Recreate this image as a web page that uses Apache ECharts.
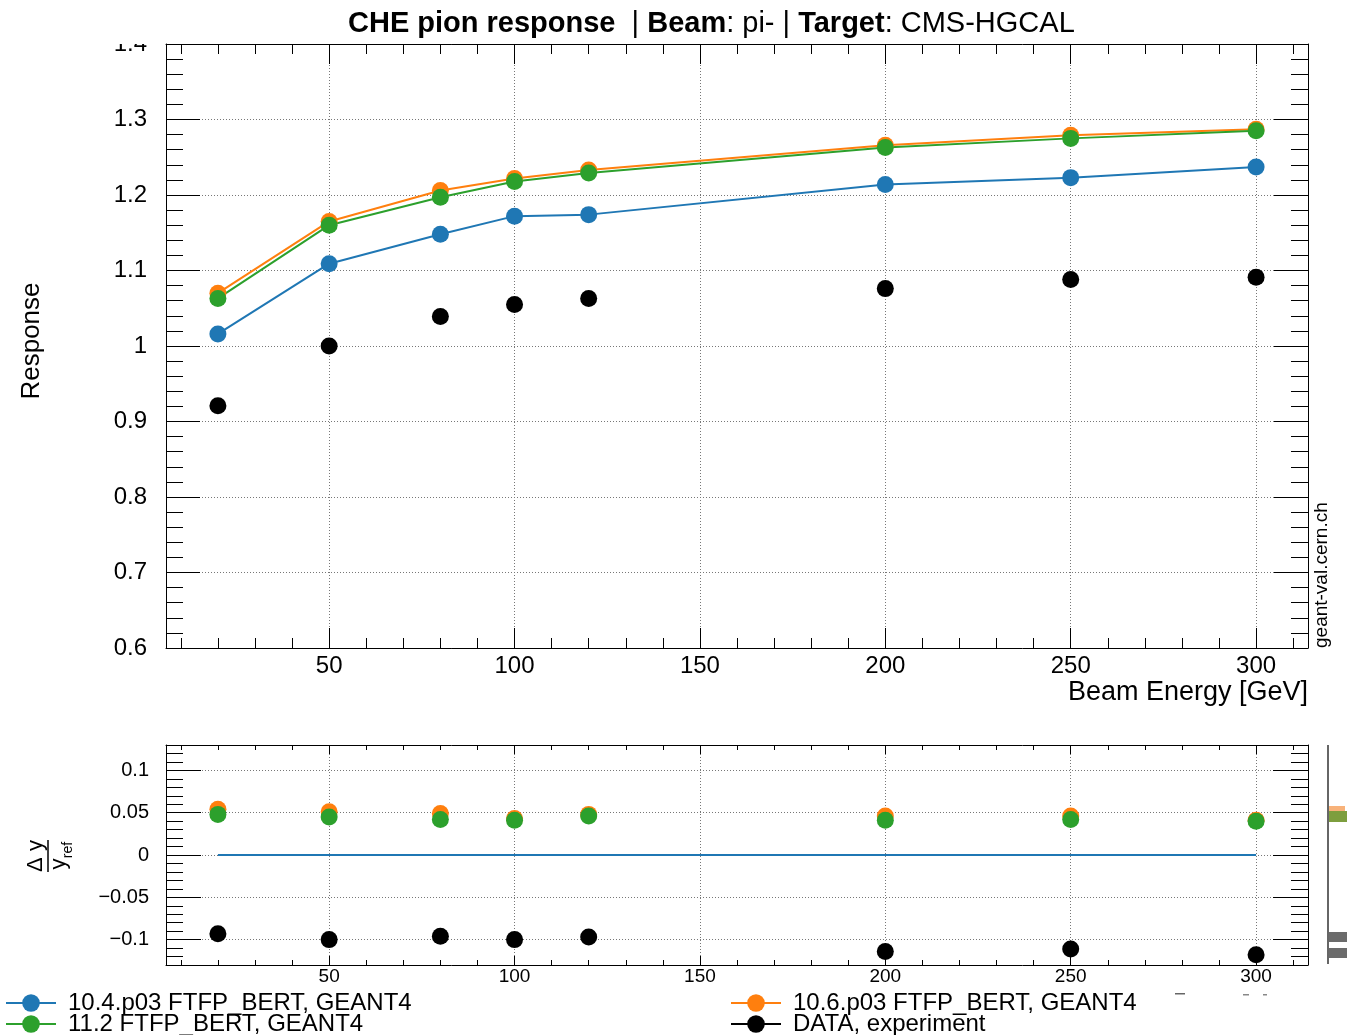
<!DOCTYPE html>
<html>
<head>
<meta charset="utf-8">
<title>CHE pion response</title>
<script src="https://cdn.jsdelivr.net/npm/echarts@6/dist/echarts.min.js"></script>
<style>
  html, body { margin: 0; padding: 0; background: #fff; }
  #chart { width: 1347px; height: 1035px; }
</style>
</head>
<body>
<div id="chart"></div>
<script>
// beam energies [GeV]
const energies = [20, 50, 80, 100, 120, 200, 250, 300];

// response, top panel
const resp104 = [1.016, 1.109, 1.148, 1.172, 1.174, 1.214, 1.223, 1.237];
const resp106 = [1.070, 1.165, 1.206, 1.222, 1.233, 1.266, 1.279, 1.287];
const resp112 = [1.063, 1.160, 1.197, 1.218, 1.229, 1.263, 1.275, 1.285];
const respData = [0.921, 1.000, 1.039, 1.055, 1.063, 1.076, 1.088, 1.091];

// relative difference to 10.4.p03, bottom panel
const ratio104 = [0, 0, 0, 0, 0, 0, 0, 0];
const ratio106 = [0.054, 0.051, 0.049, 0.043, 0.048, 0.046, 0.046, 0.041];
const ratio112 = [0.048, 0.045, 0.042, 0.041, 0.046, 0.041, 0.042, 0.040];
const ratioData = [-0.093, -0.100, -0.096, -0.100, -0.097, -0.114, -0.111, -0.118];

// tick labels
const xMajor = [50, 100, 150, 200, 250, 300];
const respMajor = [0.6, 0.7, 0.8, 0.9, 1.0, 1.1, 1.2, 1.3, 1.4];
const ratioMajor = [-0.1, -0.05, 0, 0.05, 0.1];

const names = ['10.4.p03 FTFP_BERT, GEANT4', '10.6.p03 FTFP_BERT, GEANT4', '11.2 FTFP_BERT, GEANT4', 'DATA, experiment'];
const colors = ['#1f77b4', '#ff7f0e', '#2ca02c', '#000000'];

const FONT = '"Liberation Sans", Arial, Helvetica, sans-serif';

function steps(from, to, step) {
    const out = [];
    for (let v = from; v <= to + 1e-9; v += step) out.push(+v.toFixed(3));
    return out;
}
const xMinor = steps(10, 310, 10);
const respMinor = steps(0.6, 1.4, 0.02);
const ratioMinor = steps(-0.13, 0.13, 0.01);

function pairs(ys) {
    return energies.map((x, i) => [x, ys[i]]);
}

function ax(gridIndex, position, min, max, ticks, tickLen, opts) {
    opts = opts || {};
    return {
        type: 'value', gridIndex, position, min, max,
        axisLine: { show: !!opts.line, onZero: false, lineStyle: { color: '#000', width: 1 } },
        axisTick: { show: true, inside: true, length: tickLen, customValues: ticks, lineStyle: { color: '#000', width: 1 } },
        axisLabel: opts.label
            ? Object.assign({ show: true, customValues: ticks, color: '#000', fontFamily: FONT }, opts.label)
            : { show: false },
        splitLine: opts.split
            ? { show: true, lineStyle: { color: '#777', type: [1, 2], width: 1 } }
            : { show: false },
        minorTick: { show: false },
        minorSplitLine: { show: false }
    };
}

const minusFmt = v => (v < 0 ? '\u2212' + String(-v) : String(v));

const xAxes = [
    ax(0, 'bottom', 6, 314, xMajor, 20, { line: true, split: true, label: { fontSize: 24, margin: 6 } }),
    ax(0, 'bottom', 6, 314, xMinor, 10),
    ax(0, 'top', 6, 314, xMajor, 20, { line: true }),
    ax(0, 'top', 6, 314, xMinor, 10),
    ax(1, 'bottom', 6, 314, xMajor, 9, { line: true, split: true, label: { fontSize: 19, margin: 2 } }),
    ax(1, 'bottom', 6, 314, xMinor, 5),
    ax(1, 'top', 6, 314, xMajor, 9, { line: true }),
    ax(1, 'top', 6, 314, xMinor, 5)
];

const yAxes = [
    ax(0, 'left', 0.6, 1.4, respMajor, 34, { line: true, split: true, label: { fontSize: 24, margin: 19 } }),
    ax(0, 'left', 0.6, 1.4, respMinor, 17),
    ax(0, 'right', 0.6, 1.4, respMajor, 34, { line: true }),
    ax(0, 'right', 0.6, 1.4, respMinor, 17),
    ax(1, 'left', -0.13, 0.13, ratioMajor, 35, { line: true, split: true, label: { fontSize: 20, margin: 17, formatter: minusFmt } }),
    ax(1, 'left', -0.13, 0.13, ratioMinor, 17),
    ax(1, 'right', -0.13, 0.13, ratioMajor, 35, { line: true }),
    ax(1, 'right', -0.13, 0.13, ratioMinor, 17)
];

function pointSeries(name, ys, color, grid, withLine) {
    return {
        name, type: 'line',
        xAxisIndex: grid * 4, yAxisIndex: grid * 4,
        data: pairs(ys),
        symbol: 'circle', symbolSize: 17,
        itemStyle: { color },
        lineStyle: { color, width: 2, opacity: withLine ? 1 : 0 },
        silent: true,
        emphasis: { disabled: true }
    };
}

const series = [
    pointSeries(names[0], resp104, colors[0], 0, true),
    pointSeries(names[1], resp106, colors[1], 0, true),
    pointSeries(names[2], resp112, colors[2], 0, true),
    pointSeries(names[3], respData, colors[3], 0, false),
    Object.assign(pointSeries(names[0], ratio104, colors[0], 1, true), { showSymbol: false }),
    pointSeries(names[1], ratio106, colors[1], 1, false),
    pointSeries(names[2], ratio112, colors[2], 1, false),
    pointSeries(names[3], ratioData, colors[3], 1, false)
];

function legendAt(item, left, top) {
    return {
        data: [item], left, top, padding: 0,
        itemWidth: 50, itemHeight: 22, itemGap: 0,
        selectedMode: false,
        textStyle: { fontSize: 24, fontFamily: FONT, color: '#000', padding: [0, 0, 0, 7] }
    };
}

const chart = echarts.init(document.getElementById('chart'));

chart.setOption({
    animation: false,
    backgroundColor: '#fff',
    title: {
        left: 343, top: 4,
        text: '{b|CHE pion response}{n|  | }{b|Beam}{n|: pi- | }{b|Target}{n|: CMS-HGCAL}',
        textStyle: {
            rich: {
                b: { fontFamily: FONT, fontSize: 29, fontWeight: 'bold', color: '#000' },
                n: { fontFamily: FONT, fontSize: 29, fontWeight: 'normal', color: '#000' }
            }
        }
    },
    grid: [
        { left: 166, top: 44, width: 1142, height: 604 },
        { left: 166, top: 745, width: 1142, height: 220 }
    ],
    xAxis: xAxes,
    yAxis: yAxes,
    legend: [
        legendAt({ name: names[0] }, 5, 991),
        legendAt({ name: names[2] }, 5, 1012),
        legendAt({ name: names[1] }, 730, 991),
        legendAt({ name: names[3], lineStyle: { width: 2, opacity: 1, color: '#000' } }, 730, 1012)
    ],
    series,
    graphic: [
        // clip the top "1.4" label like the pad edge does
        { type: 'rect', z: 100, shape: { x: 95, y: 20, width: 68, height: 24 }, style: { fill: '#fff' } },
        {
            type: 'text', x: 32, y: 341, rotation: Math.PI / 2,
            style: { text: 'Response', fontFamily: FONT, fontSize: 26, fill: '#000', align: 'center', verticalAlign: 'middle' }
        },
        {
            type: 'text', x: 1308, y: 693,
            style: { text: 'Beam Energy [GeV]', fontFamily: FONT, fontSize: 27, fill: '#000', align: 'right', verticalAlign: 'middle' }
        },
        {
            type: 'text', x: 1322, y: 648, rotation: Math.PI / 2,
            style: { text: 'geant-val.cern.ch', fontFamily: FONT, fontSize: 19, fill: '#000', align: 'left', verticalAlign: 'middle' }
        },
        {
            type: 'group', x: 48, y: 856, rotation: Math.PI / 2,
            children: [
                { type: 'text', x: 0, y: -12, style: { text: '\u0394 y', fontFamily: FONT, fontSize: 22, fill: '#000', align: 'center', verticalAlign: 'middle' } },
                { type: 'line', shape: { x1: -16, y1: 0, x2: 16, y2: 0 }, style: { stroke: '#000', lineWidth: 1.5 } },
                { type: 'text', x: -8, y: 11, style: { text: 'y', fontFamily: FONT, fontSize: 22, fill: '#000', align: 'center', verticalAlign: 'middle' } },
                { type: 'text', x: 6, y: 20, style: { text: 'ref', fontFamily: FONT, fontSize: 14, fill: '#000', align: 'center', verticalAlign: 'middle' } }
            ]
        },
        // edge of the neighbouring (cut off) projection pad
        { type: 'line', shape: { x1: 1328, y1: 745, x2: 1328, y2: 964 }, style: { stroke: '#333', lineWidth: 1.5 } },
        { type: 'rect', shape: { x: 1329, y: 806, width: 16, height: 5 }, style: { fill: '#f8b27a' } },
        { type: 'rect', shape: { x: 1329, y: 811, width: 18, height: 11 }, style: { fill: '#7d9e3e' } },
        { type: 'rect', shape: { x: 1329, y: 932, width: 18, height: 10 }, style: { fill: '#6b6b6b' } },
        { type: 'rect', shape: { x: 1329, y: 948, width: 18, height: 10 }, style: { fill: '#6b6b6b' } },
        { type: 'rect', shape: { x: 1175, y: 993, width: 10, height: 1.5 }, style: { fill: '#666' } },
        { type: 'rect', shape: { x: 1243, y: 994, width: 6, height: 1.5 }, style: { fill: '#888' } },
        { type: 'rect', shape: { x: 1263, y: 994, width: 4, height: 1.5 }, style: { fill: '#888' } }
    ]
});
</script>
</body>
</html>
